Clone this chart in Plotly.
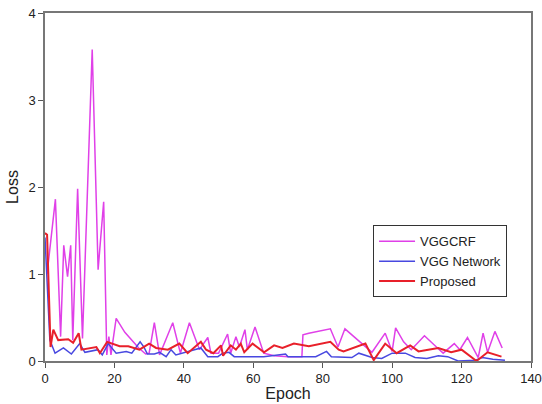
import plotly.graph_objects as go

# VGGCRF
crf_epoch = [0.6, 3.0, 4.5, 5.4, 6.5, 7.4, 8.0, 9.4, 10.8, 13.6, 15.3, 16.9, 17.8, 18.4, 19.0,
             20.5, 23.0, 27.0, 29.0, 30.0, 31.5, 33.0, 36.8, 39.0, 41.6, 44.5, 46.9, 47.8,
             50.0, 52.6, 53.5, 55.0, 56.0, 57.6, 58.3, 60.5, 63.0, 66.0, 70.0, 74.0, 74.3,
             76.0, 82.2, 84.4, 86.4, 94.2, 98.0, 100.0, 101.0, 103.3, 105.5, 109.3, 113.3,
             114.7, 117.9, 119.5, 121.7, 124.8, 126.2, 127.5, 129.6, 131.7]
crf_loss = [1.0, 1.86, 0.28, 1.33, 0.97, 1.33, 0.24, 1.98, 0.26, 3.58, 1.05, 1.83, 0.07, 0.28, 0.07,
            0.49, 0.33, 0.15, 0.08, 0.09, 0.44, 0.07, 0.44, 0.09, 0.44, 0.13, 0.27, 0.09,
            0.09, 0.31, 0.09, 0.28, 0.16, 0.36, 0.13, 0.39, 0.09, 0.06, 0.05, 0.05, 0.30,
            0.32, 0.37, 0.16, 0.37, 0.10, 0.32, 0.11, 0.38, 0.22, 0.13, 0.29, 0.14,
            0.09, 0.20, 0.13, 0.27, 0.04, 0.32, 0.10, 0.34, 0.15]

# VGG Network
vgg_epoch = [0.0, 1.4, 2.9, 5.3, 7.6, 10.0, 11.5, 15.3, 16.5, 18.2, 20.5, 23.4, 25.0, 27.4, 28.5,
             29.5, 31.5, 33.0, 34.9, 36.3, 37.7, 42.5, 44.9, 46.9, 49.8, 51.2, 53.0, 54.5,
             57.6, 63.0, 69.3, 70.0, 78.0, 81.1, 82.5, 88.4, 90.4, 92.0, 94.2, 97.0, 100.0,
             103.8, 106.6, 110.0, 113.3, 116.0, 119.0, 124.0, 126.0, 129.0, 132.5]
vgg_loss = [1.42, 0.24, 0.09, 0.15, 0.08, 0.20, 0.10, 0.13, 0.07, 0.20, 0.09, 0.11, 0.09, 0.22, 0.16,
            0.08, 0.08, 0.10, 0.05, 0.13, 0.07, 0.12, 0.15, 0.05, 0.05, 0.09, 0.10, 0.05,
            0.05, 0.05, 0.08, 0.05, 0.05, 0.11, 0.05, 0.04, 0.09, 0.07, 0.04, 0.03, 0.09,
            0.09, 0.04, 0.03, 0.06, 0.05, 0.0, 0.01, 0.04, 0.02, 0.01]

# Proposed
prop_epoch = [0.0, 0.6, 1.6, 2.4, 3.8, 6.7, 8.1, 9.7, 10.5, 13.4, 14.8, 15.8, 17.9, 21.5, 24.0,
              27.2, 30.0, 32.0, 35.4, 38.7, 41.1, 44.9, 46.4, 48.5, 50.7, 51.3, 53.5, 55.0,
              56.4, 57.4, 59.8, 63.1, 66.0, 68.4, 71.7, 76.0, 82.2, 84.6, 86.0, 92.3, 94.7,
              98.0, 101.3, 105.2, 107.6, 110.4, 113.3, 117.0, 120.0, 124.3, 127.5, 131.5]
prop_loss = [1.47, 1.45, 0.16, 0.36, 0.24, 0.25, 0.21, 0.32, 0.13, 0.15, 0.16, 0.09, 0.22, 0.17, 0.17,
             0.13, 0.20, 0.15, 0.13, 0.20, 0.09, 0.22, 0.13, 0.09, 0.18, 0.06, 0.18, 0.13,
             0.20, 0.10, 0.20, 0.10, 0.18, 0.15, 0.20, 0.17, 0.22, 0.13, 0.11, 0.20, 0.01,
             0.20, 0.09, 0.18, 0.11, 0.13, 0.15, 0.10, 0.13, 0.0, 0.10, 0.05]

x_ticks = [0, 20, 40, 60, 80, 100, 120, 140]
y_ticks = [0, 1, 2, 3, 4]

fig = go.Figure()
fig.add_trace(go.Scatter(x=crf_epoch, y=crf_loss, mode="lines", name="VGGCRF",
                         line=dict(color="#e040e8", width=1.5)))
fig.add_trace(go.Scatter(x=vgg_epoch, y=vgg_loss, mode="lines", name="VGG Network",
                         line=dict(color="#4848e0", width=1.5)))
fig.add_trace(go.Scatter(x=prop_epoch, y=prop_loss, mode="lines", name="Proposed",
                         line=dict(color="#e8202a", width=2)))

axis_common = dict(showgrid=False, zeroline=False, showline=True, linecolor="#777777",
                   linewidth=1.5, mirror=True, ticks="outside", ticklen=5, tickcolor="#555555",
                   automargin=False,
                   tickfont=dict(family="Liberation Sans, Arial", size=13, color="#222222"))

fig.update_layout(
    width=542, height=404,
    margin=dict(l=45, r=11, t=13, b=43),
    paper_bgcolor="white", plot_bgcolor="white",
    font=dict(family="Liberation Sans, Arial", color="#222222"),
    xaxis=dict(range=[0, 140], tickvals=x_ticks,
               title=dict(text="Epoch", font=dict(size=16), standoff=2), **axis_common),
    yaxis=dict(range=[0, 4], tickvals=y_ticks,
               title=dict(text="Loss", font=dict(size=16), standoff=6), **axis_common),
    legend=dict(x=0.675, y=0.39, xanchor="left", yanchor="top",
                bordercolor="#333333", borderwidth=1, bgcolor="white",
                font=dict(size=13, color="#222222"), tracegroupgap=0,
                itemwidth=36),
    showlegend=True,
)

fig.write_html("out.html", config={"displayModeBar": False},
               post_script="document.body.style.margin='0';document.body.style.overflow='hidden';")
